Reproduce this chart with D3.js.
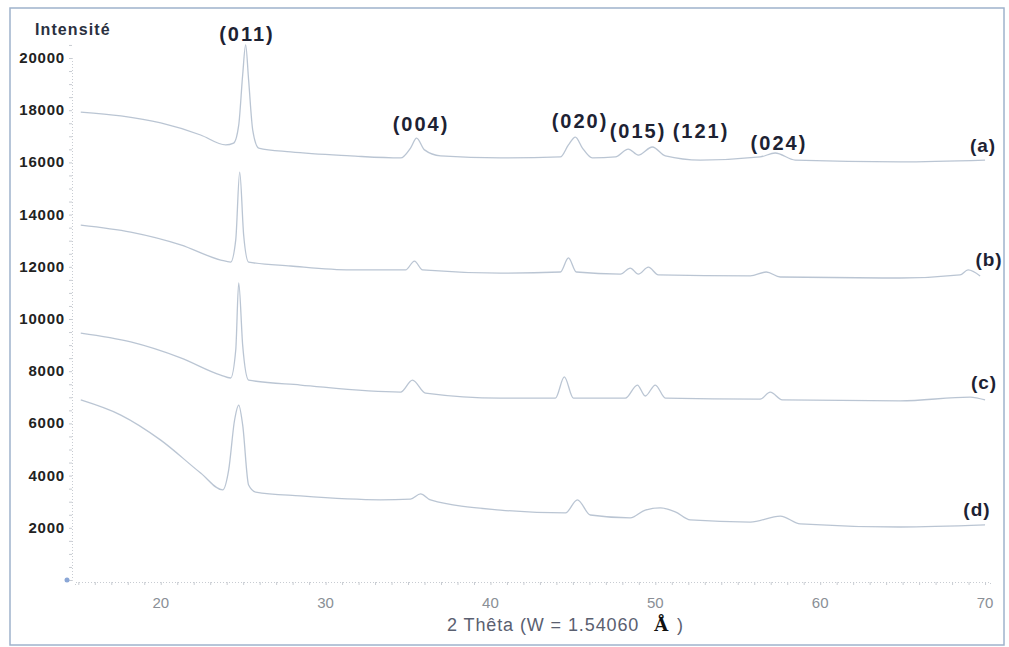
<!DOCTYPE html>
<html>
<head>
<meta charset="utf-8">
<script src="https://cdn.jsdelivr.net/npm/d3@7"></script>
<style>
  body { margin: 0; background: #fff; }
  svg { display: block; }
</style>
</head>
<body>
<svg id="chart" width="1009" height="647"></svg>
<script>
// XRD patterns, [2θ, intensity]
var curveA = [[15.15,17930],[17.58,17780],[20,17510],[22.42,17050],[23.94,16670],[24.42,16740],[24.73,17430],[24.97,19350],[25.15,20500],[25.33,19160],[25.58,17240],[25.94,16550],[27.88,16400],[31.52,16250],[34.55,16170],[35.15,16550],[35.52,16930],[36.0,16480],[36.97,16250],[40.61,16170],[44.24,16210],[44.73,16670],[45.15,16970],[45.58,16550],[46.18,16170],[47.58,16210],[48.36,16510],[48.97,16280],[49.82,16590],[50.61,16250],[52.73,16090],[56.36,16210],[57.27,16360],[58.48,16090],[64.85,16020],[70.0,16090]];
var curveB = [[15.15,13600],[18.18,13330],[21.21,12840],[23.64,12260],[24.24,12180],[24.55,13030],[24.79,15630],[25.03,13220],[25.33,12180],[27.88,12030],[31.52,11880],[34.85,11880],[35.39,12220],[35.88,11880],[40.61,11760],[44.24,11800],[44.73,12340],[45.21,11800],[47.88,11720],[48.48,11950],[48.97,11720],[49.58,11990],[50.18,11690],[55.76,11650],[56.73,11800],[57.58,11610],[64.85,11570],[68.48,11690],[68.97,11880],[69.7,11650]];
var curveC = [[15.15,9460],[18.18,9120],[21.21,8510],[23.64,7850],[24.24,7740],[24.55,8810],[24.73,11380],[24.97,9000],[25.33,7660],[28.48,7470],[34.55,7200],[35.27,7660],[36.06,7160],[40.61,6970],[43.94,6970],[44.48,7780],[45.03,6970],[48.18,6970],[48.91,7470],[49.39,7050],[50.0,7470],[50.61,6970],[56.36,6930],[56.97,7200],[57.7,6900],[64.85,6860],[69.09,7010],[70.0,6900]];
var curveD = [[15.15,6900],[17.58,6320],[20,5360],[22.42,4100],[23.76,3450],[24.12,4210],[24.48,6130],[24.73,6700],[24.97,5940],[25.33,3640],[25.76,3370],[28.48,3220],[33.33,3070],[35.15,3100],[35.76,3300],[36.36,3070],[40.61,2680],[44.55,2570],[45.27,3070],[46.06,2490],[48.48,2380],[49.39,2680],[50.3,2760],[51.21,2610],[52.12,2300],[55.76,2220],[57.58,2450],[58.79,2150],[64.85,2030],[70.0,2110]];

var curves = [curveA, curveB, curveC, curveD];
var curveNames = ['(a)', '(b)', '(c)', '(d)'];
var curveNamePos = [[69.88, 16400], [70.24, 12030], [69.94, 7320], [69.51, 2450]];

var peakLabels = ['(011)', '(004)', '(020)', '(015)', '(121)', '(024)'];
var peakLabelPos = [[25.23, 20650], [35.79, 17200], [45.43, 17320], [48.95, 16930], [52.77, 16930], [57.5, 16480]];

var xTicks = [20, 30, 40, 50, 60, 70];
var yTicks = [2000, 4000, 6000, 8000, 10000, 12000, 14000, 16000, 18000, 20000];

var svg = d3.select('#chart');

var x = d3.scaleLinear().domain([14.8, 70.3]).range([75, 990]);
var y = d3.scaleLinear().domain([0, 20000]).range([580, 58]);

// scanned frame
svg.append('rect')
    .attr('x', 10).attr('y', 8)
    .attr('width', 994).attr('height', 637)
    .attr('fill', 'none')
    .attr('stroke', '#9fb3cc')
    .attr('stroke-width', 1.5);

// axes, dotted like the scan
var yMinor = d3.range(0, 20501, 500);
var xMinor = d3.range(15, 70.5, 1);

var gy = svg.append('g').attr('transform', 'translate(72,0)');
gy.call(d3.axisLeft(y).tickValues(yMinor).tickSize(3).tickFormat(''));
gy.select('.domain').attr('stroke', '#c8ccd2').attr('stroke-dasharray', '1,2');
gy.selectAll('.tick line').attr('stroke', '#c8ccd2');

var gx = svg.append('g').attr('transform', 'translate(0,582)');
gx.call(d3.axisBottom(x).tickValues(xMinor).tickSize(3).tickFormat(''));
gx.select('.domain').attr('stroke', '#c8ccd2').attr('stroke-dasharray', '1,2');
gx.selectAll('.tick line').attr('stroke', '#c8ccd2');

svg.append('circle').attr('cx', 67).attr('cy', y(0)).attr('r', 2.5).attr('fill', '#8aa6d6');

// tick labels
svg.append('g').selectAll('text').data(yTicks).enter()
    .append('text')
    .attr('x', 65)
    .attr('y', d => y(d) + 5)
    .attr('text-anchor', 'end')
    .attr('font-family', 'Liberation Sans, Arial, sans-serif')
    .attr('font-weight', 'bold')
    .attr('font-size', 15)
    .attr('letter-spacing', 0.8)
    .attr('fill', '#222')
    .text(d => d);

svg.append('g').selectAll('text').data(xTicks).enter()
    .append('text')
    .attr('x', d => x(d))
    .attr('y', 608)
    .attr('text-anchor', 'middle')
    .attr('font-family', 'Liberation Sans, Arial, sans-serif')
    .attr('font-size', 15)
    .attr('fill', '#8a8f96')
    .text(d => d);

svg.append('text')
    .attr('x', 35).attr('y', 35)
    .attr('font-family', 'Liberation Sans, Arial, sans-serif')
    .attr('font-weight', 'bold')
    .attr('font-size', 16)
    .attr('letter-spacing', 1.1)
    .attr('fill', '#2a3040')
    .text('Intensité');

var xt = svg.append('text')
    .attr('x', 447).attr('y', 631)
    .attr('font-family', 'Liberation Sans, Arial, sans-serif')
    .attr('font-size', 18)
    .attr('letter-spacing', 0.9)
    .attr('fill', '#5a6070');
xt.append('tspan').text('2 Thêta (W = 1.54060 ');
xt.append('tspan')
    .attr('dx', 9)
    .attr('font-family', 'DejaVu Serif, Liberation Serif, serif')
    .attr('font-weight', 'bold')
    .attr('fill', '#111')
    .text('Å');
xt.append('tspan').attr('dx', 8).text(')');

// patterns
var line = d3.line()
    .x(d => x(d[0]))
    .y(d => y(d[1]))
    .curve(d3.curveMonotoneX);

svg.append('g').selectAll('path').data(curves).enter()
    .append('path')
    .attr('d', line)
    .attr('fill', 'none')
    .attr('stroke', '#aebbcb')
    .attr('stroke-width', 1.3)
    .attr('stroke-opacity', 0.85);

// labels
svg.append('g').selectAll('text').data(curveNames).enter()
    .append('text')
    .attr('x', (d, i) => x(curveNamePos[i][0]))
    .attr('y', (d, i) => y(curveNamePos[i][1]))
    .attr('text-anchor', 'middle')
    .attr('font-family', 'Liberation Sans, Arial, sans-serif')
    .attr('font-weight', 'bold')
    .attr('font-size', 19)
    .attr('letter-spacing', 1)
    .attr('fill', '#1d2233')
    .text(d => d);

svg.append('g').selectAll('text').data(peakLabels).enter()
    .append('text')
    .attr('x', (d, i) => x(peakLabelPos[i][0]))
    .attr('y', (d, i) => y(peakLabelPos[i][1]))
    .attr('text-anchor', 'middle')
    .attr('font-family', 'Liberation Sans, Arial, sans-serif')
    .attr('font-weight', 'bold')
    .attr('font-size', 20)
    .attr('letter-spacing', 2)
    .attr('fill', '#1d2233')
    .text(d => d);
</script>
</body>
</html>
